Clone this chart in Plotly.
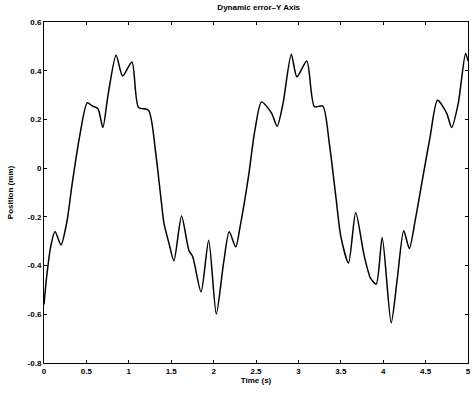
import plotly.graph_objects as go

time_s = [0.0, 0.03, 0.08, 0.13, 0.2, 0.27, 0.33, 0.42, 0.51, 0.57, 0.635, 0.694, 0.752, 0.85,
          0.927, 1.037, 1.115, 1.232, 1.318, 1.377, 1.415, 1.474, 1.532, 1.622, 1.708, 1.754,
          1.852, 1.942, 2.032, 2.117, 2.184, 2.261, 2.312, 2.409, 2.487, 2.565, 2.682, 2.749,
          2.819, 2.916, 2.982, 3.099, 3.189, 3.287, 3.365, 3.442, 3.501, 3.591, 3.676, 3.774,
          3.852, 3.918, 3.988, 4.094, 4.164, 4.242, 4.308, 4.378, 4.462, 4.553, 4.640, 4.749,
          4.807, 4.885, 4.971, 5.0]
position_mm = [-0.56, -0.45, -0.32, -0.26, -0.315, -0.22, -0.07, 0.13, 0.268, 0.255, 0.245, 0.167,
               0.293, 0.464, 0.378, 0.436, 0.249, 0.238, 0.060, -0.118, -0.227, -0.309, -0.380,
               -0.196, -0.337, -0.364, -0.508, -0.296, -0.599, -0.391, -0.261, -0.323, -0.241,
               -0.04, 0.156, 0.272, 0.227, 0.172, 0.266, 0.468, 0.375, 0.440, 0.252, 0.255, 0.101,
               -0.118, -0.282, -0.389, -0.182, -0.357, -0.453, -0.476, -0.285, -0.635, -0.460,
               -0.257, -0.330, -0.213, -0.048, 0.128, 0.279, 0.225, 0.167, 0.266, 0.471, 0.44]

x_ticks = [0, 0.5, 1, 1.5, 2, 2.5, 3, 3.5, 4, 4.5, 5]
x_tick_labels = ["0", "0.5", "1", "1.5", "2", "2.5", "3", "3.5", "4", "4.5", "5"]
y_ticks = [0.6, 0.4, 0.2, 0, -0.2, -0.4, -0.6, -0.8]
y_tick_labels = ["0.6", "0.4", "0.2", "0", "-0.2", "-0.4", "-0.6", "-0.8"]

font = dict(family="Liberation Sans, Arial, sans-serif", size=8, color="black", weight="bold")

fig = go.Figure()
fig.add_trace(go.Scatter(x=time_s, y=position_mm, mode="lines",
                         line=dict(color="black", width=1.5, shape="spline", smoothing=0.7),
                         hoverinfo="skip", showlegend=False))

axis_common = dict(showline=True, linecolor="black", linewidth=1, mirror="ticks",
                   ticks="inside", ticklen=3, tickcolor="black", showgrid=False,
                   zeroline=False, tickfont=font, ticklabeloverflow="allow")

fig.update_layout(
    width=473, height=393,
    paper_bgcolor="white", plot_bgcolor="white",
    margin=dict(l=44, r=2, t=22, b=30),
    title=dict(text="Dynamic error\u2013Y Axis", x=0.547, xanchor="center", y=0.99, yanchor="top",
               font=font),
    xaxis=dict(range=[0, 5], tickvals=x_ticks, ticktext=x_tick_labels,
               title=dict(text="Time (s)", font=font, standoff=2), **axis_common),
    yaxis=dict(range=[-0.8, 0.6], tickvals=y_ticks, ticktext=y_tick_labels,
               title=dict(text="Position (mm)", font=font, standoff=12), **axis_common),
)

fig.write_html("out.html", config={"displayModeBar": False},
               post_script="document.body.style.margin='0';document.body.style.overflow='hidden';")
